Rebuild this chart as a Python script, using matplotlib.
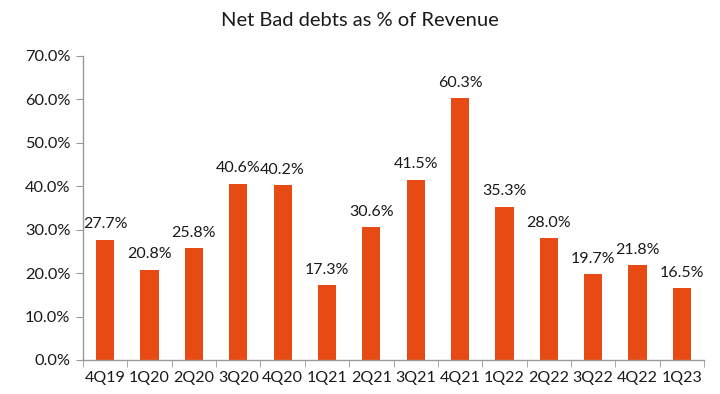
import matplotlib
matplotlib.use("Agg")
import matplotlib.pyplot as plt
import numpy as np

categories = ["4Q19", "1Q20", "2Q20", "3Q20", "4Q20", "1Q21", "2Q21",
              "3Q21", "4Q21", "1Q22", "2Q22", "3Q22", "4Q22", "1Q23"]
values = [27.7, 20.8, 25.8, 40.6, 40.2, 17.3, 30.6,
          41.5, 60.3, 35.3, 28.0, 19.7, 21.8, 16.5]
yticks = [0, 10, 20, 30, 40, 50, 60, 70]

plt.rcParams['font.family'] = ['Lato', 'DejaVu Sans']

fig = plt.figure(figsize=(7.2, 3.94), dpi=100)
ax = fig.add_axes([0.1153, 0.0863, 0.8625, 0.7717])

x = np.arange(len(categories))
bar_color = "#E84A14"
ax.bar(x, values, width=0.41, color=bar_color, zorder=2)

for xi, v in zip(x, values):
    ax.annotate(f"{v:.1f}%", (xi, v), xytext=(0, 6), textcoords="offset points",
                ha="center", va="bottom", fontsize=11.5, color="#1a1a1a")

ax.set_xlim(-0.5, len(categories) - 0.5)
ax.set_ylim(0, 70)
ax.set_yticks(yticks)
ax.set_yticklabels([f"{t:.1f}%" for t in yticks], fontsize=11.8, color="#1a1a1a")

ax.set_xticks(x)
ax.set_xticklabels(categories, fontsize=11.5, color="#1a1a1a")
ax.tick_params(axis="x", which="major", length=0, pad=8)
ax.set_xticks(np.arange(-0.5, len(categories) + 0.5, 1), minor=True)
ax.tick_params(axis="x", which="minor", length=5, color="#999999", direction="out")
ax.tick_params(axis="y", length=5, color="#999999", direction="out", pad=4)

for s in ["top", "right"]:
    ax.spines[s].set_visible(False)
for s in ["left", "bottom"]:
    ax.spines[s].set_color("#999999")
    ax.spines[s].set_linewidth(1.0)

fig.text(0.5, 0.948, "Net Bad debts as % of Revenue", ha="center", va="center",
         fontsize=14.5, color="#1a1a1a")

fig.savefig("out.png", dpi=100)
